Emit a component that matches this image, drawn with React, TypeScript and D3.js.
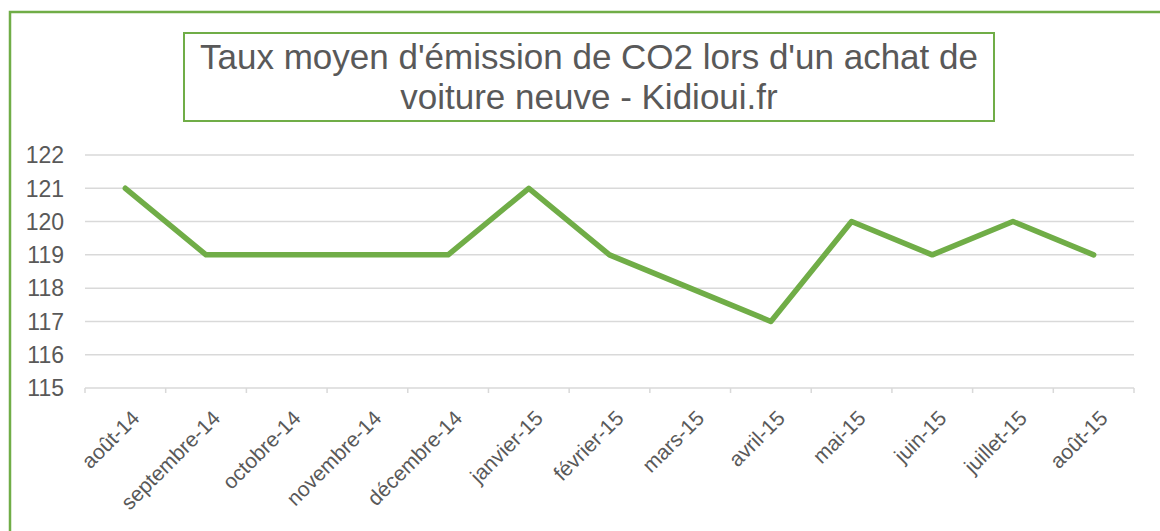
import React, { useEffect, useRef } from 'react';
import * as d3 from 'd3';

const months = [
  'août-14', 'septembre-14', 'octobre-14', 'novembre-14', 'décembre-14', 'janvier-15',
  'février-15', 'mars-15', 'avril-15', 'mai-15', 'juin-15', 'juillet-15', 'août-15',
];
const co2 = [121, 119, 119, 119, 119, 121, 119, 118, 117, 120, 119, 120, 119];
const yTicks = [115, 116, 117, 118, 119, 120, 121, 122];
const titleLines = ["Taux moyen d'émission de CO2 lors d'un achat de", 'voiture neuve - Kidioui.fr'];

const green = '#70AD47';
const grey = '#595959';

const App = () => {
  const ref = useRef<SVGSVGElement>(null);

  useEffect(() => {
    const width = 1160;
    const height = 531;
    const plot = { left: 85, right: 1134, top: 155, bottom: 388 };

    const svg = d3.select(ref.current);
    svg.selectAll('*').remove();
    svg.attr('width', width).attr('height', height);

    svg.append('rect').attr('width', width).attr('height', height).attr('fill', '#fff');

    // outer frame (runs off the picture on the right and bottom)
    svg.append('rect')
      .attr('x', 10).attr('y', 12)
      .attr('width', 1170).attr('height', 540)
      .attr('fill', 'none').attr('stroke', green).attr('stroke-width', 2.5);

    // title box
    svg.append('rect')
      .attr('x', 184).attr('y', 33)
      .attr('width', 810).attr('height', 88)
      .attr('fill', 'none').attr('stroke', green).attr('stroke-width', 2);

    svg.append('g')
      .selectAll('text')
      .data(titleLines)
      .enter()
      .append('text')
      .attr('x', 589)
      .attr('y', (d, i) => 69 + i * 40)
      .attr('text-anchor', 'middle')
      .style('font-family', 'Liberation Sans, Arial, sans-serif')
      .style('font-size', '35px')
      .style('fill', grey)
      .text(d => d);

    const x = d3.scaleBand().domain(months).range([plot.left, plot.right]);
    const y = d3.scaleLinear().domain([115, 122]).range([plot.bottom, plot.top]);

    // gridlines
    svg.append('g')
      .selectAll('line')
      .data(yTicks)
      .enter()
      .append('line')
      .attr('x1', plot.left).attr('x2', plot.right)
      .attr('y1', d => y(d)).attr('y2', d => y(d))
      .attr('stroke', '#d9d9d9').attr('stroke-width', 1.5);

    // category tick marks
    const bounds = months.map(m => x(m) as number).concat([plot.right]);
    svg.append('g')
      .selectAll('line')
      .data(bounds)
      .enter()
      .append('line')
      .attr('x1', d => d).attr('x2', d => d)
      .attr('y1', plot.bottom).attr('y2', plot.bottom + 5)
      .attr('stroke', '#d9d9d9').attr('stroke-width', 1.5);

    // y labels
    svg.append('g')
      .selectAll('text')
      .data(yTicks)
      .enter()
      .append('text')
      .attr('x', 64)
      .attr('y', d => y(d))
      .attr('dy', '0.36em')
      .attr('text-anchor', 'end')
      .style('font-family', 'Liberation Sans, Arial, sans-serif')
      .style('font-size', '23px')
      .style('fill', grey)
      .text(d => d);

    // x labels
    svg.append('g')
      .selectAll('text')
      .data(months)
      .enter()
      .append('text')
      .attr('transform', d => `translate(${(x(d) as number) + x.bandwidth() / 2 + 5}, 409) rotate(-45)`)
      .attr('dy', '0.7em')
      .attr('text-anchor', 'end')
      .style('font-family', 'Liberation Sans, Arial, sans-serif')
      .style('font-size', '21px')
      .style('fill', grey)
      .text(d => d);

    const line = d3.line<number>()
      .x((d, i) => (x(months[i]) as number) + x.bandwidth() / 2)
      .y(d => y(d));

    svg.append('path')
      .datum(co2)
      .attr('d', line)
      .attr('fill', 'none')
      .attr('stroke', green)
      .attr('stroke-width', 5.5)
      .attr('stroke-linejoin', 'round')
      .attr('stroke-linecap', 'round');
  }, []);

  return (
    <div style={{ position: 'absolute', left: 0, top: 0 }}>
      <svg ref={ref} style={{ display: 'block' }}></svg>
    </div>
  );
};

export default App;
